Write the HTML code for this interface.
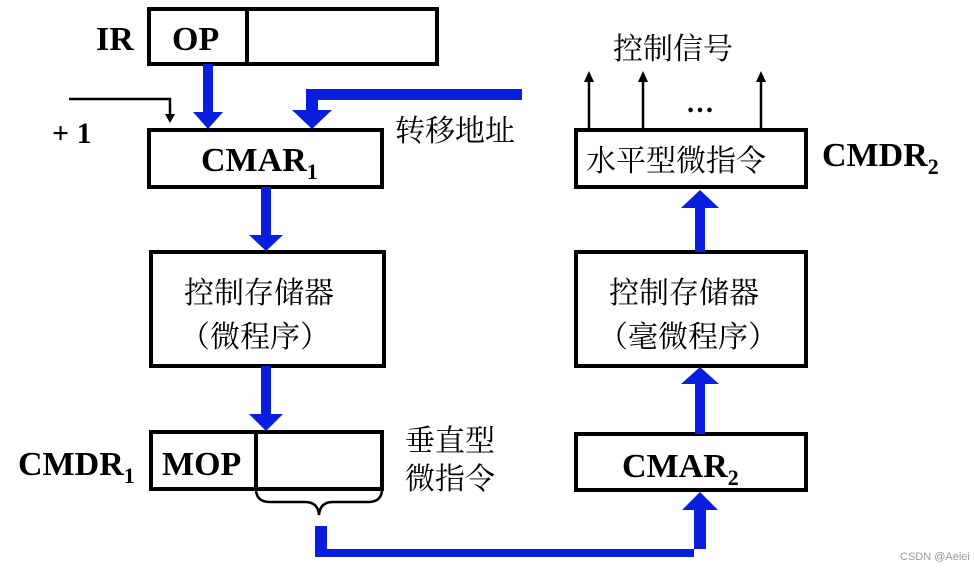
<!DOCTYPE html>
<html><head><meta charset="utf-8"><style>
body{margin:0;background:#fff}
svg text{font-family:"Liberation Serif","Noto Serif CJK SC",serif}
.b{font-weight:bold}
.c{font-family:"Noto Serif CJK SC","Liberation Serif",serif}
</style></head><body>
<svg width="974" height="571" viewBox="0 0 974 571" xmlns="http://www.w3.org/2000/svg">
<g fill="none" stroke="#000" stroke-width="4">
<rect x="149" y="9" width="288" height="55"/>
<line x1="247" y1="9" x2="247" y2="64"/>
<rect x="149" y="130" width="233" height="57"/>
<rect x="151" y="252" width="233" height="114"/>
<rect x="151" y="432" width="231" height="57"/>
<line x1="256" y1="432" x2="256" y2="489"/>
<rect x="576" y="252" width="230" height="114"/>
<rect x="576" y="434" width="230" height="56"/>
<rect x="576" y="130" width="230" height="57"/>
</g>
<g fill="none" stroke="#000" stroke-width="2.5">
<polyline points="69,99 170,99 170,118"/>
<path d="M256,489 Q256,502 270,502 L305,502 Q318,502 319,515 Q320,502 333,502 L368,502 Q382,502 382,489"/>
<line x1="589" y1="128" x2="589" y2="80"/>
<line x1="643" y1="128" x2="643" y2="80"/>
<line x1="761" y1="128" x2="761" y2="80"/>
</g>
<g fill="#000">
<polygon points="165,114 175,114 170,123"/>
<polygon points="584,82 594,82 589,71"/>
<polygon points="638,82 648,82 643,71"/>
<polygon points="756,82 766,82 761,71"/>
</g>
<g fill="#0a1ee0">
<rect x="203" y="64" width="10" height="50"/>
<polygon points="193,112 223,112 208,129"/>
<polygon points="306,89 522,89 522,100 318,100 318,112 306,112"/>
<polygon points="292,110 332,110 312,129"/>
<rect x="261" y="187" width="10" height="50"/>
<polygon points="249,235 283,235 266,251"/>
<rect x="261" y="366" width="10" height="50"/>
<polygon points="249,414 283,414 266,431"/>
<polygon points="315,526 327,526 327,549 706,549 706,505 694,505 694,557 315,557"/>
<polygon points="682,510 718,510 700,492"/>
<rect x="695" y="380" width="10" height="54"/>
<polygon points="681,384 719,384 700,367"/>
<rect x="695" y="205" width="10" height="47"/>
<polygon points="681,208 719,208 700,190"/>
</g>
<g font-size="34" class="b" fill="#000">
<text x="96" y="50">IR</text>
<text x="172" y="50">OP</text>
<text x="201" y="171">CMAR<tspan font-size="22" dy="8">1</tspan></text>
<text x="18" y="475">CMDR<tspan font-size="22" dy="8">1</tspan></text>
<text x="162" y="475">MOP</text>
<text x="622" y="477">CMAR<tspan font-size="22" dy="8">2</tspan></text>
<text x="822" y="166">CMDR<tspan font-size="22" dy="8">2</tspan></text>
<text x="52" y="143" font-size="30">+ 1</text>
</g>
<g font-size="30" class="c" fill="#000">
<text x="395" y="141">转移地址</text>
<text x="184" y="303">控制存储器</text>
<text x="180" y="347">（微程序）</text>
<text x="609" y="303">控制存储器</text>
<text x="598" y="347">（毫微程序）</text>
<text x="586" y="171">水平型微指令</text>
<text x="613" y="59">控制信号</text>
<text x="405" y="451">垂直型</text>
<text x="405" y="489">微指令</text>
</g>
<text x="686" y="112" font-size="28" class="b">…</text>
<text x="900" y="560" font-size="11" fill="#999" style="font-family:'Liberation Sans',sans-serif">CSDN @Aeiei</text>
</svg>
</body></html>
